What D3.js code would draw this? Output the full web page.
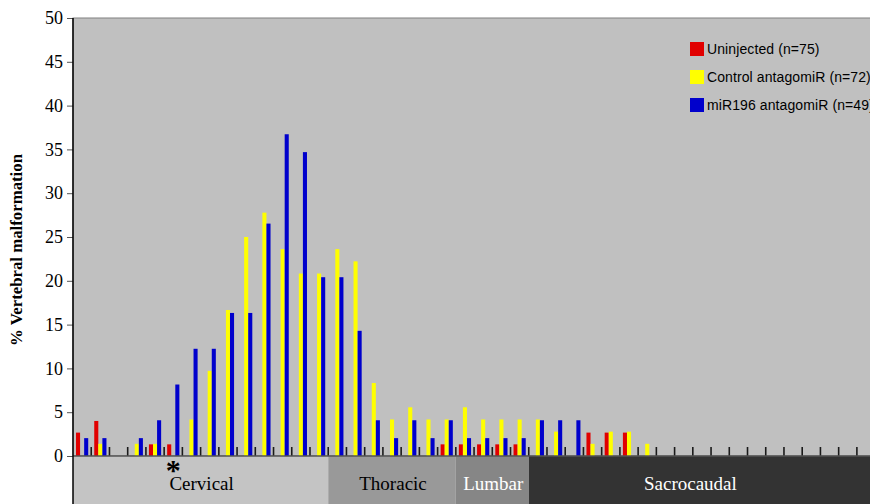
<!DOCTYPE html>
<html>
<head>
<meta charset="utf-8">
<script src="https://cdn.jsdelivr.net/npm/d3@7"></script>
<style>
  body { margin: 0; background: #fff; }
  svg { display: block; }
</style>
</head>
<body>
<div id="chart"></div>
<script>
//## Data

// one category per position along the axis (44 positions, the last ones run off the page)
const positions = d3.range(1, 45);

const series = ["Uninjected (n=75)", "Control antagomiR (n=72)", "miR196 antagomiR (n=49)"];
const seriesColors = ["#e10000", "#ffff00", "#0000cc"];

// % vertebral malformation per position
const uninjected = [2.67, 4.0, 0, 0, 1.33, 1.33, 0, 0, 0, 0, 0, 0, 0, 0, 0, 0, 0, 0, 0, 0,
  1.33, 1.33, 1.33, 1.33, 1.33, 0, 0, 0, 2.67, 2.67, 2.67, 0, 0, 0, 0, 0, 0, 0, 0, 0, 0, 0, 0, 0];
const control = [0, 1.39, 0, 1.39, 1.39, 0, 4.17, 9.72, 16.67, 25.0, 27.78, 23.61, 20.83, 20.83, 23.61, 22.22, 8.33, 4.17, 5.56, 4.17,
  4.17, 5.56, 4.17, 4.17, 4.17, 4.17, 2.78, 0, 1.39, 2.78, 2.78, 1.39, 0, 0, 0, 0, 0, 0, 0, 0, 0, 0, 0, 0];
const mir196 = [2.04, 2.04, 0, 2.04, 4.08, 8.16, 12.24, 12.24, 16.33, 16.33, 26.53, 36.73, 34.69, 20.41, 20.41, 14.29, 4.08, 2.04, 4.08, 2.04,
  4.08, 2.04, 2.04, 2.04, 2.04, 4.08, 4.08, 4.08, 0, 0, 0, 0, 0, 0, 0, 0, 0, 0, 0, 0, 0, 0, 0, 0];

// vertebral regions and how many positions each covers
const regionNames = ["Cervical", "Thoracic", "Lumbar", "Sacrocaudal"];
const regionCounts = [14, 7, 4, 19];
const regionFills = ["#c4c4c4", "#999999", "#868686", "#333333"];
const regionText = ["#000", "#000", "#fff", "#fff"];

const yTicks = d3.range(0, 55, 5);
const starPosition = 6; // position marked with the asterisk

//## Chart

const width = 870, height = 504;
const margin = { top: 18, left: 73, bottom: 48 };
const plotBottom = height - margin.bottom;
const step = 18.23;
const serif = "'Liberation Serif', 'Times New Roman', serif";

const svg = d3.select("#chart").append("svg")
  .attr("width", width)
  .attr("height", height);

const x0 = d3.scaleBand()
  .domain(positions)
  .range([margin.left, margin.left + step * positions.length])
  .padding(0);

const x1 = d3.scaleBand()
  .domain(series)
  .range([x0.bandwidth() * 0.165, x0.bandwidth() * 0.835])
  .padding(0);

const y = d3.scaleLinear()
  .domain([0, 50])
  .range([plotBottom, margin.top]);

const values = [uninjected, control, mir196];
const rows = positions.map((p, i) => ({ p, v: values.map((s) => s[i]) }));

// plot background
svg.append("rect")
  .attr("x", margin.left)
  .attr("y", margin.top)
  .attr("width", width - margin.left + 10)
  .attr("height", plotBottom - margin.top)
  .attr("fill", "#c0c0c0")
  .attr("stroke", "#808080")
  .attr("stroke-width", 1);

// region bands under the axis
let start = 0;
const regions = regionNames.map((name, i) => {
  const r = { name, from: positions[start], to: positions[start + regionCounts[i] - 1], i };
  start += regionCounts[i];
  return r;
});

const band = svg.append("g").selectAll("g").data(regions).join("g");
band.append("rect")
  .attr("x", (d) => x0(d.from))
  .attr("y", plotBottom)
  .attr("width", (d) => x0(d.to) + x0.bandwidth() - x0(d.from))
  .attr("height", height - plotBottom)
  .attr("fill", (d) => regionFills[d.i]);
band.append("text")
  .attr("x", (d) => {
    const a = x0(d.from), b = Math.min(x0(d.to) + x0.bandwidth(), width - 20);
    return (a + b) / 2 + 1;
  })
  .attr("y", 490)
  .attr("text-anchor", "middle")
  .style("font-family", serif)
  .style("font-size", "19px")
  .attr("fill", (d) => regionText[d.i])
  .text((d) => d.name);

// bars
svg.append("g")
  .selectAll("g")
  .data(rows)
  .join("g")
  .attr("transform", (d) => `translate(${x0(d.p)},0)`)
  .selectAll("rect")
  .data((d) => d.v.map((v, k) => ({ k, v })).filter((e) => e.v > 0))
  .join("rect")
  .attr("x", (e) => x1(series[e.k]))
  .attr("y", (e) => y(e.v))
  .attr("width", x1.bandwidth())
  .attr("height", (e) => plotBottom - y(e.v))
  .attr("fill", (e) => seriesColors[e.k]);

// category tick marks between positions
svg.append("g")
  .selectAll("line")
  .data(positions.slice(1))
  .join("line")
  .attr("x1", (d) => x0(d))
  .attr("x2", (d) => x0(d))
  .attr("y1", plotBottom)
  .attr("y2", plotBottom - 9)
  .attr("stroke", "#1a1a1a")
  .attr("stroke-width", 1.6);

// baseline
svg.append("line")
  .attr("x1", margin.left)
  .attr("x2", width)
  .attr("y1", plotBottom)
  .attr("y2", plotBottom)
  .attr("stroke", "#555")
  .attr("stroke-width", 1.5);

// y axis
const yAxis = svg.append("g")
  .attr("transform", `translate(${margin.left},0)`)
  .call(d3.axisLeft(y).tickValues(yTicks).tickSize(6).tickPadding(4));
yAxis.select(".domain").remove();
yAxis.selectAll(".tick line").attr("stroke", "#555");
yAxis.selectAll("text")
  .style("font-family", serif)
  .style("font-size", "18px")
  .attr("fill", "#000");

svg.append("line")
  .attr("x1", margin.left)
  .attr("x2", margin.left)
  .attr("y1", margin.top)
  .attr("y2", height)
  .attr("stroke", "#000")
  .attr("stroke-width", 1.5);

svg.append("text")
  .attr("transform", `translate(22,${(margin.top + plotBottom) / 2 + 13}) rotate(-90)`)
  .attr("text-anchor", "middle")
  .style("font-family", serif)
  .style("font-size", "16.8px")
  .style("font-weight", "bold")
  .text("% Vertebral malformation");

// asterisk
svg.append("text")
  .attr("x", x0(starPosition) + x0.bandwidth() / 2)
  .attr("y", 480)
  .attr("text-anchor", "middle")
  .style("font-family", serif)
  .style("font-size", "30px")
  .style("font-weight", "bold")
  .text("*");

// legend
const legend = svg.append("g")
  .attr("transform", "translate(690,42)")
  .selectAll("g")
  .data(series)
  .join("g")
  .attr("transform", (d, i) => `translate(0,${i * 28})`);
legend.append("rect")
  .attr("width", 14)
  .attr("height", 14)
  .attr("fill", (d, i) => seriesColors[i]);
legend.append("text")
  .attr("x", 17)
  .attr("y", 7)
  .attr("dy", "0.35em")
  .style("font-family", "'Liberation Sans', Arial, sans-serif")
  .style("font-size", "14px")
  .style("letter-spacing", "0.1px")
  .attr("fill", "#000")
  .text((d) => d);
</script>
</body>
</html>
